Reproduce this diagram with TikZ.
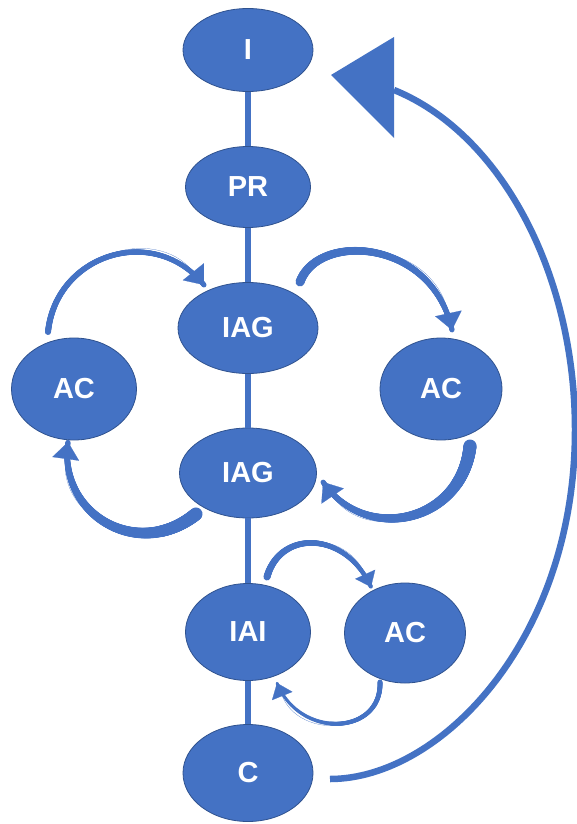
\documentclass[tikz,border=0pt]{standalone}
\usepackage{fontspec}
\setmainfont{Liberation Sans}
\usetikzlibrary{shapes.geometric, arrows.meta, decorations.markings}
\definecolor{nodeblue}{HTML}{4472C4}
\definecolor{edgeblue}{HTML}{2F528F}
\definecolor{arcblue}{HTML}{4472C4}
\begin{document}
\begin{tikzpicture}[x=1pt, y=-1pt,
  state/.style={ellipse, fill=nodeblue, draw=edgeblue, line width=0.8pt, inner sep=0pt,
    text=white, font=\fontsize{29}{29}\selectfont\bfseries},
  spine/.style={draw=arcblue, line width=6.5pt},
  tband/.style 2 args={draw=arcblue, line width=0.2pt, postaction={decorate},
    decoration={markings, mark=between positions 0 and 1 step 0.5pt with {
      \pgfmathsetmacro\bandw{#1+(#2-#1)*\pgfkeysvalueof{/pgf/decoration/mark info/distance from start}/\pgfdecoratedpathlength}
      \fill[arcblue] (0,0) circle[radius=\bandw*0.5pt];}}},
  headL/.style={-{Triangle[length=17pt,width=27pt]}},
  headS/.style={-{Triangle[length=14pt,width=22pt]}},
]
\useasboundingbox (0,0) rectangle (576,824);
\fill[white] (0,0) rectangle (576,824);

% nodes
\node[state, minimum width=130pt, minimum height=83pt] (I) at (248,50) {I};
\node[state, minimum width=125pt, minimum height=81pt] (PR) at (248,187) {PR};
\node[state, minimum width=140pt, minimum height=91pt] (IAG1) at (248,328) {IAG};
\node[state, minimum width=137pt, minimum height=90pt] (IAG2) at (248,473) {IAG};
\node[state, minimum width=125pt, minimum height=102pt] (ACL) at (74,389) {AC};
\node[state, minimum width=122pt, minimum height=102pt] (ACR) at (441,389) {AC};
\node[state, minimum width=125pt, minimum height=97pt] (IAI) at (248,632) {IAI};
\node[state, minimum width=121pt, minimum height=100pt] (ACS) at (405,633) {AC};
\node[state, minimum width=130pt, minimum height=97pt] (C) at (248,773) {C};

% spine
\draw[spine] (I.south) -- (PR.north);
\draw[spine] (PR.south) -- (IAG1.north);
\draw[spine] (IAG1.south) -- (IAG2.north);
\draw[spine] (IAG2.south) -- (IAI.north);
\draw[spine] (IAI.south) -- (C.north);

% loop arcs
\coordinate (a1s) at (48,332);   \coordinate (a1e) at (204,285);
\coordinate (a2s) at (300,282);  \coordinate (a2e) at (452,330);
\coordinate (a3s) at (470,446);  \coordinate (a3e) at (323,482);
\coordinate (a4s) at (196,514);  \coordinate (a4e) at (68,442);
\coordinate (a5s) at (267,577);  \coordinate (a5e) at (371,587);
\coordinate (a6s) at (380,682);  \coordinate (a6e) at (277,683);

\draw[tband={6}{5}, headL] (a1s) .. controls (56,254) and (154,223) .. (a1e);
\draw[tband={9}{5}, headL] (a2s) .. controls (318,232) and (432,238) .. (a2e);
\draw[tband={13}{5}, headL] (a3s) .. controls (462,522) and (366,545) .. (a3e);
\draw[tband={13}{5}, headL] (a4s) .. controls (138,561) and (58,515) .. (a4e);
\draw[tband={7}{4}, headS] (a5s) .. controls (280,530) and (345,530) .. (a5e);
\draw[tband={5}{3}, headS] (a6s) .. controls (382,735) and (300,740) .. (a6e);

% big return arc C -> I
\coordinate (bigS) at (330,779);
\coordinate (bigM) at (575,430);
\coordinate (bigE) at (394,90);
\coordinate (tipA) at (331,75);
\coordinate (tipB) at (394,37);
\coordinate (tipC) at (394,138);
\draw[arcblue, line width=6.5pt] (bigS) .. controls (440,779) and (575,640) .. (bigM)
  .. controls (575,272) and (500,133) .. (bigE);
\fill[arcblue] (tipA) -- (tipB) -- (tipC) -- cycle;
\end{tikzpicture}
\end{document}
